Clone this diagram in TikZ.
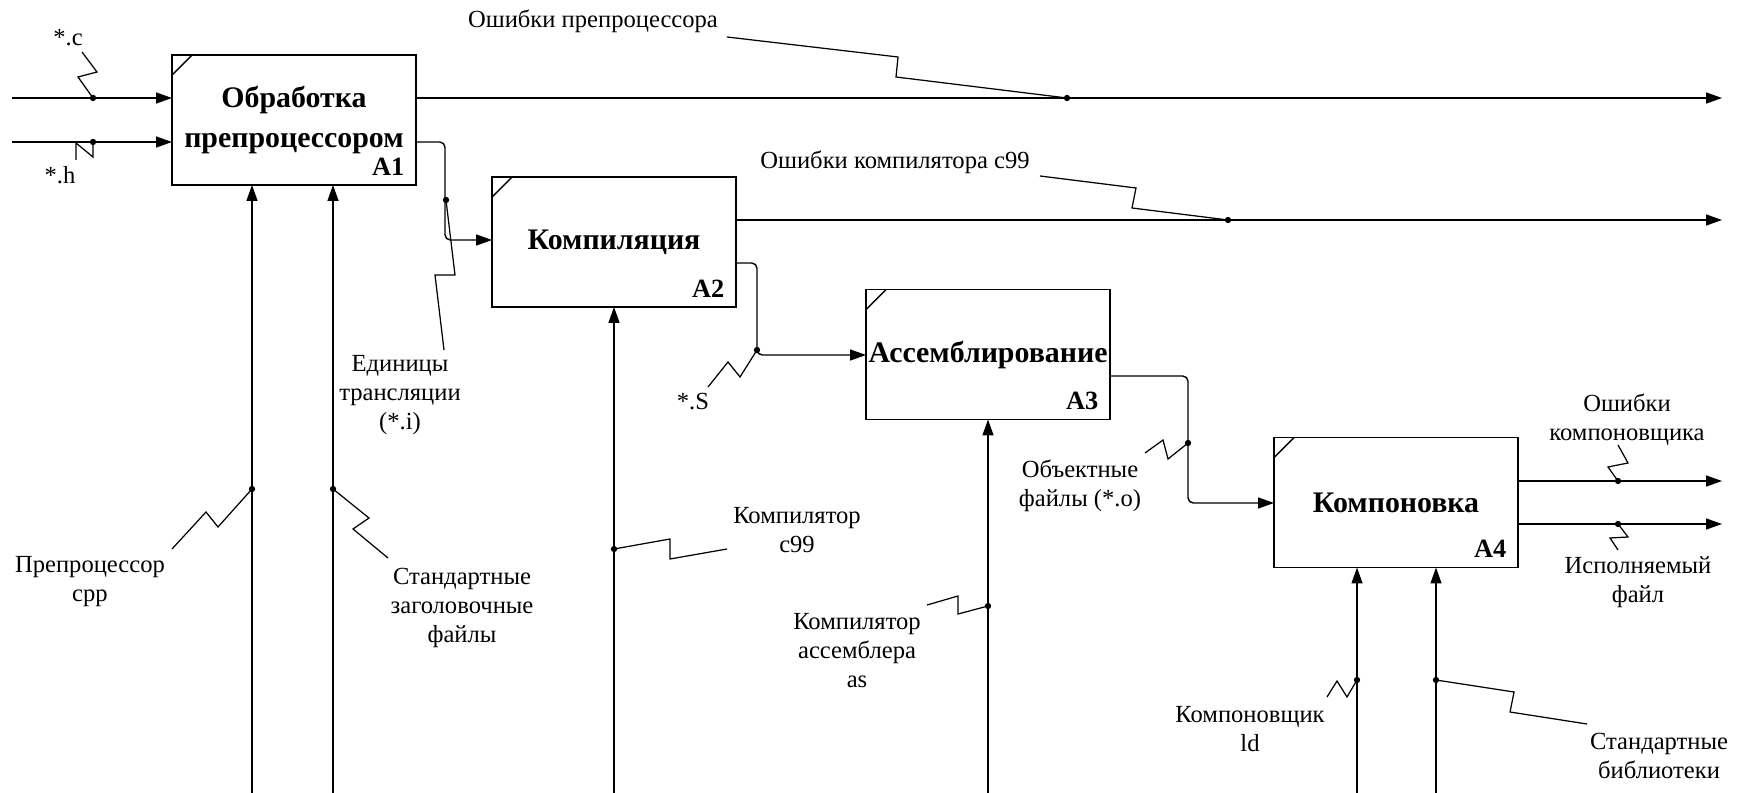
\documentclass[tikz,border=0pt]{standalone}
\usepackage{fontspec}
\setmainfont{Liberation Serif}
\usetikzlibrary{arrows.meta}

\begin{document}
\begin{tikzpicture}[x=0.02cm,y=-0.02cm,line width=0.8pt,
    func/.style={draw,minimum width=4.88cm,minimum height=2.6cm,inner sep=0pt,outer sep=0pt,
      align=center,font=\bfseries\fontsize{17}{22.7}\selectfont},
    anum/.style={anchor=south east,inner sep=0pt,font=\bfseries\fontsize{15}{18}\selectfont},
    flow/.style={-{Triangle[length=0.32cm,width=0.22cm]}},
    squig/.style={line width=0.7pt},
    lbl/.style={align=center,inner sep=0pt,font=\fontsize{14}{16.5}\selectfont}]

        \useasboundingbox (0,0) rectangle (1746,793);

        % functions
        \node[func] (a1) at (294,120) {Обработка\\препроцессором};
        \node[func] (a2) at (614,242) {Компиляция};
        \node[func] (a3) at (988,354.5) {Ассемблирование};
        \node[func] (a4) at (1396,502.5) {Компоновка};

        \foreach \b/\n in {a1/A1,a2/A2,a3/A3,a4/A4} {
          \node[anum] (\b num) at ([shift={(-11,-9)}]\b.south east) {\n};
          \draw (\b.north west) ++(0,20) -- ++(20,-20);
        }

        % free ends
        \coordinate (in c) at (12,98);
        \coordinate (in h) at (12,142);
        \coordinate (out1) at (1722,98);
        \coordinate (out2) at (1722,220);
        \coordinate (out3) at (1722,481);
        \coordinate (out4) at (1722,524);
        \coordinate (ctl1) at (252,793);
        \coordinate (ctl2) at (333,793);
        \coordinate (ctl3) at (614,793);
        \coordinate (ctl4) at (988,793);
        \coordinate (ctl5) at (1357,793);
        \coordinate (ctl6) at (1436,793);

        \draw[flow] (in c) -- (in c -| a1.west);
        \draw[flow] (in h) -- (in h -| a1.west);

        \draw[flow] (a1.east |- out1) -- (out1);
        \draw[flow] (a2.east |- out2) -- (out2);
        \draw[flow] (a4.east |- out3) -- (out3);
        \draw[flow] (a4.east |- out4) -- (out4);

        \foreach \c/\b in {ctl1/a1,ctl2/a1,ctl3/a2,ctl4/a3,ctl5/a4,ctl6/a4}
          \draw[flow] (\c) -- (\c |- \b.south);

        % links between functions
        \coordinate (j1) at (445,142);
        \coordinate (j2) at (445,240);
        \coordinate (j3) at (757,263);
        \coordinate (j4) at (757,355);
        \coordinate (j5) at (1188,376);
        \coordinate (j6) at (1188,503);
        \draw[flow,rounded corners=3pt] (a1.east |- j1) -- (j1) -- (j2) -- (a2.west |- j2);
        \draw[flow,rounded corners=3pt] (a2.east |- j3) -- (j3) -- (j4) -- (a3.west |- j4);
        \draw[flow,rounded corners=3pt] (a3.east |- j5) -- (j5) -- (j6) -- (a4.west |- j6);

        % labels
        \node[lbl] (l c) at (68,38) {*.c};
        \node[lbl] (l h) at (60,175) {*.h};
        \node[lbl] (l e1) at (593,21) {Ошибки препроцессора};
        \node[lbl] (l e2) at (895,162) {Ошибки компилятора c99};
        \node[lbl] (l i) at (400,395) {Единицы\\трансляции\\(*.i)};
        \node[lbl] (l s) at (693,402) {*.S};
        \node[lbl] (l cpp) at (90,582) {Препроцессор\\cpp};
        \node[lbl] (l hdr) at (462,608) {Стандартные\\заголовочные\\файлы};
        \node[lbl] (l cc) at (797,530) {Компилятор\\c99};
        \node[lbl] (l as) at (857,651) {Компилятор\\ассемблера\\as};
        \node[lbl] (l o) at (1080,486) {Объектные\\файлы (*.o)};
        \node[lbl] (l le) at (1627,420) {Ошибки\\компоновщика};
        \node[lbl] (l exe) at (1638,582) {Исполняемый\\файл};
        \node[lbl] (l ld) at (1250,729) {Компоновщик\\ld};
        \node[lbl] (l lib) at (1659,756) {Стандартные\\библиотеки};

        % squiggles
        \coordinate (d c) at (93,98);
        \coordinate (d h) at (93,142);
        \coordinate (d e1) at (1067,98);
        \coordinate (d e2) at (1228,220);
        \coordinate (d i) at (446,200);
        \coordinate (d s) at (757,350);
        \coordinate (d cpp) at (252,489);
        \coordinate (d hdr) at (333,489);
        \coordinate (d cc) at (614,549);
        \coordinate (d as) at (988,606);
        \coordinate (d o) at (1188,443);
        \coordinate (d le) at (1618,481);
        \coordinate (d exe) at (1618,524);
        \coordinate (d ld) at (1357,680);
        \coordinate (d lib) at (1436,680);

        \draw[squig] (d c) -- (78,77) -- (97,72) -- (82,52);
        \draw[squig] (d h) -- (93,157) -- (76,143) -- (76,160);
        \draw[squig] (d e1) -- (896,77) -- (898,57) -- (727,37);
        \draw[squig] (d e2) -- (1132,208) -- (1136,188) -- (1040,176);
        \draw[squig] (d i) -- (455,275) -- (435,275) -- (444,350);
        \draw[squig] (d s) -- (740,377) -- (728,362) -- (708,387);
        \draw[squig] (d cpp) -- (218,527) -- (206,512) -- (172,549);
        \draw[squig] (d hdr) -- (369,518) -- (353,529) -- (388,558);
        \draw[squig] (d cc) -- (670,539) -- (670,559) -- (727,549);
        \draw[squig] (d as) -- (958,614) -- (958,596) -- (927,605);
        \draw[squig] (d o) -- (1168,459) -- (1163,440) -- (1145,453);
        \draw[squig] (d le) -- (1608,467) -- (1628,463) -- (1618,445);
        \draw[squig] (d exe) -- (1628,537) -- (1610,538) -- (1618,550);
        \draw[squig] (d ld) -- (1347,697) -- (1337,681) -- (1327,697);
        \draw[squig] (d lib) -- (1514,692) -- (1510,712) -- (1587,724);

        \foreach \d in {d c,d h,d e1,d e2,d i,d s,d cpp,d hdr,d cc,d as,d o,d le,d exe,d ld,d lib}
          \fill (\d) circle (1.8pt);

\end{tikzpicture}
\end{document}
